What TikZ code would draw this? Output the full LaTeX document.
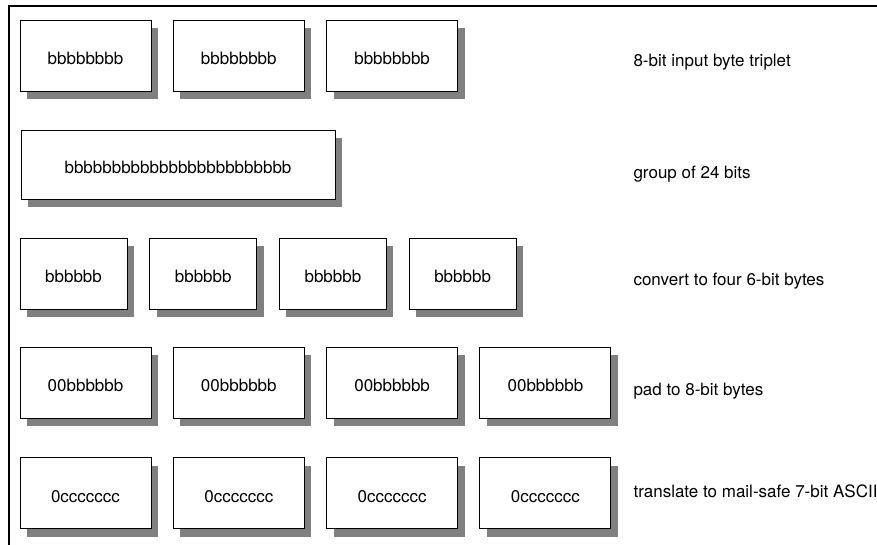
\documentclass[tikz,border=0pt]{standalone}
\usepackage{fontspec}
\setmainfont{TeX Gyre Heros}
\usetikzlibrary{shadows}

\tikzset{
  bytebox/.style={draw,line width=0.9pt,fill=white,minimum width=131,minimum height=71,
    text height=18pt,text depth=0pt,
    drop shadow={shadow xshift=7pt,shadow yshift=-8pt,fill=black!50,opacity=1}},
  steplabel/.style={anchor=base west},
}

\begin{document}
\begin{tikzpicture}[x=1pt,y=-1pt,font=\fontsize{17}{20}\selectfont]
  \useasboundingbox (0,0) rectangle (877,544);
  % frame, open to the right and bottom
  \draw[line width=2pt] (9,560) -- (9,6) -- (890,6);
  % input bytes
  \foreach \i in {0,1,2}
    \node[bytebox] (in\i) at (85.5+153.3*\i,55.5) {bbbbbbbb};
  % one 24-bit group
  \node[bytebox,minimum width=314,minimum height=69] (grp) at (178,164.5)
    {bbbbbbbbbbbbbbbbbbbbbbbb};
  % split, pad, translate
  \foreach \i in {0,...,3} {
    \node[bytebox,minimum width=107] (six\i) at (73.5+129.7*\i,273.5) {bbbbbb};
    \node[bytebox] (pad\i) at (85.5+153.3*\i,382.5) {00bbbbbb};
    \node[bytebox] (asc\i) at (85.5+153.3*\i,493) {0ccccccc};
  }
  \node[steplabel] (lblin)  at (630,66)  {8-bit input byte triplet};
  \node[steplabel] (lblgrp) at (630,178) {group of 24 bits};
  \node[steplabel] (lblsix) at (630,285) {convert to four 6-bit bytes};
  \node[steplabel] (lblpad) at (630,395) {pad to 8-bit bytes};
  \node[steplabel] (lblasc) at (630,497) {translate to mail-safe 7-bit ASCII};
\end{tikzpicture}
\end{document}
